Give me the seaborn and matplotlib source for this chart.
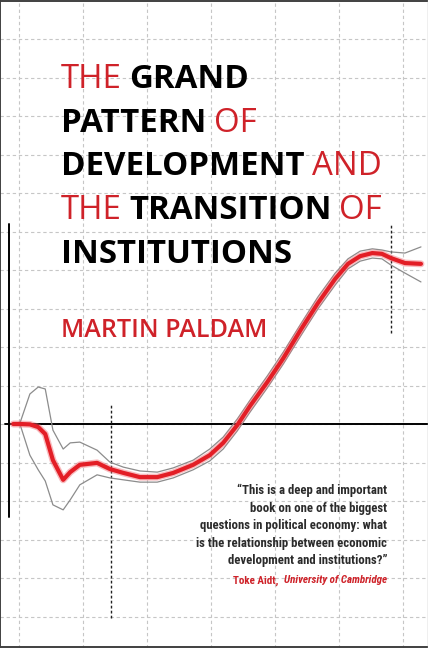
import numpy as np
import pandas as pd
import matplotlib
matplotlib.use("Agg")
import matplotlib.pyplot as plt
import seaborn as sns

# data (x: log income, y: institution gap)
income = [5.91, 6.02, 6.17, 6.30, 6.41, 6.53, 6.69, 6.80, 6.95, 7.22, 7.42, 7.63,
          7.89, 8.16, 8.41, 8.72, 8.98, 9.19, 9.41, 9.61, 9.88, 10.13, 10.41, 10.67,
          10.94, 11.14, 11.33, 11.52, 11.67, 11.81, 12.03, 12.28]
kernel = [0.00, 0.00, -0.01, -0.08, -0.26, -0.94, -1.45, -1.25, -1.06, -1.01, -1.17, -1.27,
          -1.38, -1.38, -1.27, -1.06, -0.81, -0.49, -0.03, 0.47, 1.09, 1.71, 2.47, 3.14,
          3.77, 4.16, 4.36, 4.44, 4.42, 4.31, 4.18, 4.16]
upper = [0.00, 0.05, 0.78, 0.96, 0.91, -0.16, -0.65, -0.49, -0.47, -0.68, -0.99, -1.12,
         -1.22, -1.25, -1.14, -0.94, -0.65, -0.34, 0.13, 0.62, 1.25, 1.87, 2.62, 3.30,
         3.92, 4.29, 4.49, 4.55, 4.52, 4.47, 4.44, 4.60]
lower = [0.00, -0.03, -0.81, -1.19, -1.48, -2.10, -2.23, -1.97, -1.58, -1.32, -1.40, -1.45,
         -1.51, -1.51, -1.40, -1.19, -0.96, -0.65, -0.18, 0.31, 0.94, 1.56, 2.31, 2.99,
         3.61, 4.03, 4.23, 4.31, 4.29, 4.13, 3.92, 3.69]
cut_low = 7.44
cut_high = 11.81

title_lines = [
    [("THE", "r"), ("GRAND", "b")],
    [("PATTERN", "b"), ("OF", "r")],
    [("DEVELOPMENT", "b"), ("AND", "r")],
    [("THE", "r"), ("TRANSITION", "b"), ("OF", "r")],
    [("INSTITUTIONS", "b")],
]
author = "MARTIN PALDAM"
quote_lines = [
    "\u201cThis is a deep and important",
    "book on one of the biggest",
    "questions in political economy: what",
    "is the relationship between economic",
    "development and institutions?\u201d",
]
quote_name = "Toke Aidt,"
quote_place = "University of Cambridge"

df = pd.DataFrame({"income": income, "kernel": kernel, "upper": upper, "lower": lower})

RED = "#cf2229"
W, H = 428, 648
TFAM = ["Open Sans", "DejaVu Sans"]
QFAM = ["Roboto Condensed", "DejaVu Sans"]

sns.set_style("white")
fig = plt.figure(figsize=(W / 100, H / 100), dpi=100)
ax = fig.add_axes([0, 0, 1, 1])
ax.set_xlim(5.703, 12.39)
ax.set_ylim(-5.818, 11.013)
ax.set_xticks(range(6, 13))
ax.set_yticks(range(-5, 11))
ax.grid(True, color="#c6c6c6", lw=0.8, ls=(0, (3, 2.5)))
ax.tick_params(length=0, labelbottom=False, labelleft=False)
for s in ax.spines.values():
    s.set_visible(False)

# axes of the diagram
ax.axhline(0, xmin=0.011, xmax=1, color="black", lw=1.4, zorder=3)
ax.plot([5.844, 5.844], [-2.42, 5.2], color="black", lw=1.4, zorder=3)
ax.plot([cut_low, cut_low], [-5.04, 0.49], color="#222222", lw=1.0, ls=(0, (2, 1.6)), zorder=3)
ax.plot([cut_high, cut_high], [2.36, 5.22], color="#222222", lw=1.0, ls=(0, (2, 1.6)), zorder=3)

# confidence band and kernel curve
sns.lineplot(data=df, x="income", y="upper", ax=ax, sort=False, estimator=None,
             color="#8c8c8c", lw=0.9, zorder=4)
sns.lineplot(data=df, x="income", y="lower", ax=ax, sort=False, estimator=None,
             color="#8c8c8c", lw=0.9, zorder=4)
sns.lineplot(data=df, x="income", y="kernel", ax=ax, sort=False, estimator=None,
             color="#f06870", lw=5.0, alpha=0.45, zorder=5)
sns.lineplot(data=df, x="income", y="kernel", ax=ax, sort=False, estimator=None,
             color="#e31e26", lw=3.0, zorder=6)
ax.set_xlabel("")
ax.set_ylabel("")

renderer = fig.canvas.get_renderer()


def fx(px):
    return px / W


def fy(py):
    return 1 - py / H


def width_of(s, **kw):
    t = fig.text(0, 0, s, **kw)
    w = t.get_window_extent(renderer=renderer).width
    t.remove()
    return w


def title_kw(kind, size):
    return dict(fontsize=size, family=TFAM, weight="bold" if kind == "b" else "normal",
                color="black" if kind == "b" else RED)


def line_width(parts, size):
    gap = 0.22 * size * 100 / 72
    return sum(width_of(w, **title_kw(k, size)) for w, k in parts) + gap * (len(parts) - 1)


# title size fitted so the widest line spans the same width as on the cover
tsize = 25.0
tsize *= 321 / line_width(title_lines[2], tsize)
gap = 0.22 * tsize * 100 / 72
baselines = [88, 131.7, 175.3, 219, 262.7]
for parts, base in zip(title_lines, baselines):
    x = 61
    for word, kind in parts:
        t = fig.text(fx(x), fy(base), word, va="baseline", ha="left", **title_kw(kind, tsize))
        x += t.get_window_extent(renderer=renderer).width + gap

akw = dict(family=TFAM, weight="semibold", color=RED)
asize = 20.0 * 206 / width_of(author, fontsize=20.0, **akw)
fig.text(fx(61), fy(336.7), author, fontsize=asize, va="baseline", ha="left", **akw)

qkw = dict(family=QFAM, weight="bold", color="#2b2b2b")
qsize = 10.0 * 190.7 / width_of(quote_lines[3], fontsize=10.0, **qkw)
qbase = [494.3, 511.7, 529.3, 546.7, 564.3]
for line, base in zip(quote_lines, qbase):
    fig.text(fx(387), fy(base), line, fontsize=qsize, va="baseline", ha="right", **qkw)

rsize = qsize * 0.86
t = fig.text(fx(387), fy(583.3), quote_place, fontsize=rsize, family=QFAM, weight="bold",
             style="italic", color=RED, va="baseline", ha="right")
bb = t.get_window_extent(renderer=renderer)
space = 0.5 * rsize * 100 / 72
fig.text((bb.x0 - space) / W, fy(583.3), quote_name, fontsize=rsize, family=QFAM, weight="bold",
         color=RED, va="baseline", ha="right")

# cover edge: dark on left, top and bottom, faint on the right
edge = dict(transform=fig.transFigure, lw=1.4, color="#404040")
fig.add_artist(plt.Line2D([0.001, 0.001], [0, 1], **edge))
fig.add_artist(plt.Line2D([0, 1], [0.999, 0.999], **edge))
fig.add_artist(plt.Line2D([0, 1], [0.002, 0.002], **edge))
fig.add_artist(plt.Line2D([0.999, 0.999], [0, 1], transform=fig.transFigure, lw=1.0,
                          color="#b0b0b0"))

fig.savefig("out.png", dpi=100)
